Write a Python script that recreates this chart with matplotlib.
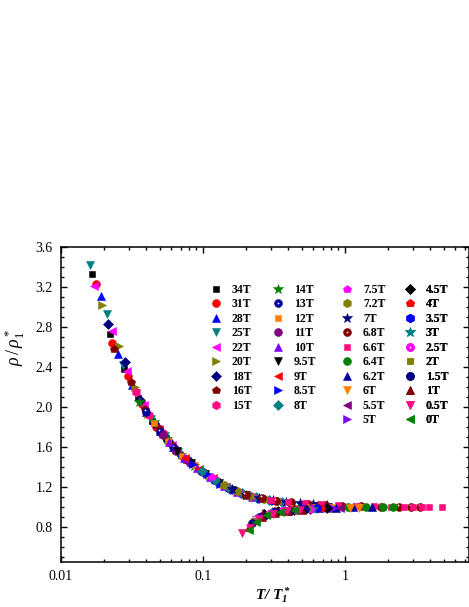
import matplotlib
matplotlib.use('Agg')
import matplotlib.pyplot as plt
from matplotlib.lines import Line2D
from matplotlib.ticker import FuncFormatter, NullFormatter, MultipleLocator, LogLocator
from matplotlib.transforms import offset_copy

plt.rcParams['font.family'] = 'Liberation Serif'
plt.rcParams['mathtext.fontset'] = 'custom'
plt.rcParams['mathtext.rm'] = 'Liberation Serif'
plt.rcParams['mathtext.it'] = 'Liberation Serif:italic'
plt.rcParams['mathtext.bf'] = 'Liberation Serif:bold'
plt.rcParams['mathtext.bfit'] = 'Liberation Serif:bold:italic'

# ---------------- data ----------------
fields = ['34T', '31T', '28T', '25T', '22T', '20T', '18T', '16T', '15T',
          '14T', '13T', '12T', '11T', '10T', '9.5T', '9T', '8.5T', '8T',
          '7.5T', '7.2T', '7T', '6.8T', '6.6T', '6.4T', '6.2T', '6T', '5.5T', '5T',
          '4.5T', '4T', '3.5T', '3T', '2.5T', '2T', '1.5T', '1T', '0.5T', '0T']

t_34T = [0.0166, 0.022, 0.0277, 0.035, 0.044, 0.055]
r_34T = [3.33, 2.73, 2.38, 2.09, 1.86, 1.69]
t_31T = [0.0177, 0.023, 0.0297, 0.037, 0.047, 0.058]
r_31T = [3.23, 2.64, 2.31, 2.03, 1.80, 1.65]
t_28T = [0.0192, 0.0254, 0.0319, 0.040, 0.050, 0.062]
r_28T = [3.11, 2.53, 2.22, 1.95, 1.76, 1.60]
t_25T = [0.0159, 0.021, 0.0273, 0.034, 0.043, 0.054, 0.067]
r_25T = [3.42, 2.93, 2.42, 2.14, 1.88, 1.71, 1.55]
t_22T = [0.0172, 0.023, 0.029, 0.0387, 0.049, 0.061]
r_22T = [3.21, 2.76, 2.36, 2.02, 1.78, 1.62]
t_20T = [0.0195, 0.0258, 0.033, 0.041, 0.052, 0.065]
r_20T = [3.02, 2.61, 2.20, 1.93, 1.73, 1.57]
t_18T = [0.0214, 0.0283, 0.036, 0.045, 0.057, 0.071]
r_18T = [2.83, 2.45, 2.07, 1.84, 1.66, 1.51]
t_16T = [0.0238, 0.0312, 0.039, 0.049, 0.061, 0.076]
r_16T = [2.58, 2.25, 1.98, 1.79, 1.62, 1.47]
t_15T = [0.0335, 0.042, 0.052, 0.066, 0.082, 0.10]
r_15T = [2.15, 1.92, 1.74, 1.57, 1.44, 1.35]
t_14T = [0.0357, 0.045, 0.056, 0.070, 0.087, 0.108]
r_14T = [2.05, 1.85, 1.68, 1.52, 1.41, 1.32]
t_13T = [0.040, 0.050, 0.063, 0.078, 0.097, 0.12, 0.15]
r_13T = [1.95, 1.75, 1.59, 1.47, 1.36, 1.27, 1.19]
t_12T = [0.045, 0.057, 0.071, 0.088, 0.11, 0.137, 0.17]
r_12T = [1.84, 1.66, 1.51, 1.42, 1.31, 1.22, 1.15]
t_11T = [0.052, 0.065, 0.081, 0.10, 0.125, 0.155, 0.19]
r_11T = [1.72, 1.56, 1.44, 1.35, 1.26, 1.18, 1.13]
t_10T = [0.058, 0.073, 0.091, 0.113, 0.14, 0.175, 0.22]
r_10T = [1.65, 1.49, 1.39, 1.30, 1.21, 1.15, 1.10]
t_9p5T = [0.066, 0.083, 0.104, 0.13, 0.16, 0.20, 0.25]
r_9p5T = [1.56, 1.44, 1.33, 1.24, 1.17, 1.12, 1.08]
t_9T = [0.075, 0.094, 0.117, 0.146, 0.18, 0.225, 0.28]
r_9T = [1.49, 1.38, 1.29, 1.20, 1.14, 1.10, 1.07]
t_8p5T = [0.085, 0.106, 0.132, 0.165, 0.205, 0.255, 0.32]
r_8p5T = [1.43, 1.33, 1.23, 1.17, 1.12, 1.08, 1.06]
t_8T = [0.098, 0.122, 0.152, 0.19, 0.235, 0.29, 0.36]
r_8T = [1.36, 1.27, 1.19, 1.14, 1.10, 1.07, 1.05]
t_7p5T = [0.115, 0.143, 0.178, 0.22, 0.275, 0.34, 0.42]
r_7p5T = [1.30, 1.22, 1.16, 1.11, 1.08, 1.06, 1.04]
t_7p2T = [0.14, 0.175, 0.215, 0.27, 0.335, 0.415, 0.52, 0.65]
r_7p2T = [1.22, 1.16, 1.11, 1.08, 1.06, 1.04, 1.03, 1.02]
t_7T = [0.16, 0.20, 0.25, 0.31, 0.385, 0.48, 0.6, 0.75]
r_7T = [1.18, 1.12, 1.09, 1.07, 1.05, 1.04, 1.03, 1.02]
t_6p8T = [0.20, 0.26, 0.33, 0.42, 0.55, 0.72, 0.95, 1.3, 1.8, 2.4, 2.95, 3.4]
r_6p8T = [1.12, 1.09, 1.06, 1.05, 1.03, 1.02, 1.01, 1.01, 1.0, 1.0, 1.0, 1.0]
t_6p6T = [0.3, 0.4, 0.52, 0.68, 0.9, 1.2, 1.6, 2.1, 2.62, 3.0, 3.5, 3.95, 4.85]
r_6p6T = [1.07, 1.05, 1.035, 1.025, 1.015, 1.01, 1.005, 1.0, 1.0, 1.0, 1.0, 1.0, 0.995]
t_6p4T = [0.45, 0.6, 0.8, 1.05, 1.4, 1.85, 2.17]
r_6p4T = [0.975, 0.985, 0.99, 0.995, 1.0, 1.0, 1.0]
t_6p2T = [0.38, 0.5, 0.66, 0.87, 1.15, 1.55]
r_6p2T = [0.97, 0.98, 0.985, 0.99, 0.995, 1.0]
t_6T = [0.33, 0.44, 0.58, 0.78, 1.08, 1.26]
r_6T = [0.96, 0.975, 0.985, 0.99, 0.99, 0.99]
t_5p5T = [0.30, 0.39, 0.51, 0.68, 0.92]
r_5p5T = [0.955, 0.97, 0.98, 0.985, 0.99]
t_5T = [0.28, 0.36, 0.47, 0.62, 0.82]
r_5T = [0.94, 0.96, 0.975, 0.985, 0.99]
t_4p5T = [0.27, 0.34, 0.44, 0.57, 0.75]
r_4p5T = [0.93, 0.955, 0.97, 0.98, 0.99]
t_4T = [0.26, 0.32, 0.41, 0.53, 0.68]
r_4T = [0.92, 0.95, 0.965, 0.975, 0.985]
t_3p5T = [0.25, 0.31, 0.39, 0.5, 0.64]
r_3p5T = [0.90, 0.945, 0.96, 0.975, 0.985]
t_3T = [0.24, 0.30, 0.37, 0.47, 0.6]
r_3T = [0.89, 0.94, 0.955, 0.97, 0.98]
t_2p5T = [0.235, 0.29, 0.36, 0.45, 0.57]
r_2p5T = [0.88, 0.93, 0.955, 0.97, 0.98]
t_2T = [0.23, 0.28, 0.35, 0.43, 0.54]
r_2T = [0.86, 0.92, 0.95, 0.965, 0.975]
t_1p5T = [0.22, 0.27, 0.33, 0.41, 0.52]
r_1p5T = [0.84, 0.91, 0.945, 0.96, 0.975]
t_1T = [0.21, 0.26, 0.32, 0.40, 0.5]
r_1T = [0.80, 0.90, 0.94, 0.96, 0.97]
t_0p5T = [0.19, 0.215, 0.25, 0.31, 0.39, 0.48]
r_0p5T = [0.74, 0.79, 0.88, 0.93, 0.955, 0.97]
t_0T = [0.21, 0.235, 0.28, 0.35, 0.44]
r_0T = [0.77, 0.85, 0.915, 0.95, 0.965]

T_data = [t_34T, t_31T, t_28T, t_25T, t_22T, t_20T, t_18T, t_16T, t_15T,
          t_14T, t_13T, t_12T, t_11T, t_10T, t_9p5T, t_9T, t_8p5T, t_8T,
          t_7p5T, t_7p2T, t_7T, t_6p8T, t_6p6T, t_6p4T, t_6p2T, t_6T, t_5p5T, t_5T,
          t_4p5T, t_4T, t_3p5T, t_3T, t_2p5T, t_2T, t_1p5T, t_1T, t_0p5T, t_0T]
R_data = [r_34T, r_31T, r_28T, r_25T, r_22T, r_20T, r_18T, r_16T, r_15T,
          r_14T, r_13T, r_12T, r_11T, r_10T, r_9p5T, r_9T, r_8p5T, r_8T,
          r_7p5T, r_7p2T, r_7T, r_6p8T, r_6p6T, r_6p4T, r_6p2T, r_6T, r_5p5T, r_5T,
          r_4p5T, r_4T, r_3p5T, r_3T, r_2p5T, r_2T, r_1p5T, r_1T, r_0p5T, r_0T]

# ---------------- styles ----------------
color_cycle = ['#000000', '#FF0000', '#0000FF', '#008080', '#FF00FF', '#808000',
               '#000080', '#800000', '#FF0A80', '#008000', '#0000A0', '#FF8000',
               '#800080', '#8000FF']
marker_cycle = ['s', 'o', '^', 'v', '<', '>', 'D', 'p', 'h', '*', 'sphere']
msize = {'s': 4.9, 'o': 5.7, '^': 6.2, 'v': 6.2, '<': 6.2, '>': 6.2,
         'D': 4.9, 'p': 6.2, 'h': 6.2, '*': 7.7, 'sphere': 5.7}

fig = plt.figure(figsize=(4.69, 6.07), dpi=100)
W, H = 469.0, 607.0
ax_l, ax_r, ax_t, ax_b = 61.0, 469.0, 246.7, 562.0
ax = fig.add_axes([ax_l / W, 1 - ax_b / H, (ax_r - ax_l) / W, (ax_b - ax_t) / H])

hl_off = offset_copy(ax.transData, fig=fig, x=-0.9, y=0.9, units='points')

handles = []
for i, (lab, t, r) in enumerate(zip(fields, T_data, R_data)):
    c = color_cycle[i % len(color_cycle)]
    m = marker_cycle[i % len(marker_cycle)]
    mk = 'o' if m == 'sphere' else m
    ax.plot(t, r, linestyle='none', marker=mk, ms=msize[m], color=c,
            mec=c, mew=0.4, zorder=3 + i * 0.01)
    h = Line2D([], [], linestyle='none', marker=mk, ms=msize[m], color=c, mec=c, mew=0.4)
    if m == 'sphere':
        ax.plot(t, r, linestyle='none', marker='o', ms=1.3, color='white',
                mew=0, transform=hl_off, zorder=3 + i * 0.01 + 0.005)
        hw = Line2D([], [], linestyle='none', marker='o', ms=1.3, color='white', mew=0)
        h = (h, hw)
    handles.append(h)

ax.set_xscale('log')
ax.set_xlim(0.01, 7.5)
ax.set_ylim(0.447, 3.6)

ax.xaxis.set_major_locator(LogLocator(base=10, numticks=10))
ax.xaxis.set_minor_locator(LogLocator(base=10, subs=range(2, 10), numticks=20))
ax.xaxis.set_major_formatter(FuncFormatter(lambda v, p: '%g' % v))
ax.xaxis.set_minor_formatter(NullFormatter())
ax.yaxis.set_major_locator(MultipleLocator(0.4))
ax.yaxis.set_minor_locator(MultipleLocator(0.1))
ax.yaxis.set_major_formatter(FuncFormatter(lambda v, p: '%.1f' % v))

ax.tick_params(which='both', direction='in', top=True, right=True, width=1.0,
               labelsize=10, colors='black')
ax.tick_params(which='major', length=4.5, pad=6)
ax.tick_params(which='minor', length=2.5)
for s in ax.spines.values():
    s.set_linewidth(1.1)

ax.set_ylabel(r'$\rho\,/\,\rho_1^*$', fontsize=13)
ax.yaxis.set_label_coords((27 - ax_l) / (ax_r - ax_l), (ax_b - 347) / (ax_b - ax_t))
ax.set_xlabel(r'$\mathbfit{T/\ T_1^*}$', fontsize=11)
ax.xaxis.set_label_coords((273 - ax_l) / (ax_r - ax_l), (ax_b - 586) / (ax_b - ax_t))

# legend: 4 columns (9, 9, 10, 10 entries)
col_slices = [(0, 9), (9, 18), (18, 28), (28, 38)]
col_marker_x = [216, 278, 347, 410]
fs = 8.5
half_handle = 0.5 * 1.0 * fs * 100 / 72.0
row_top = 284.0
for (a, b), mx in zip(col_slices, col_marker_x):
    lx = (mx - half_handle - ax_l) / (ax_r - ax_l)
    ly = (ax_b - row_top) / (ax_b - ax_t)
    leg = ax.legend(handles[a:b], fields[a:b], loc='upper left',
                    bbox_to_anchor=(lx, ly), bbox_transform=ax.transAxes,
                    frameon=False, borderpad=0, borderaxespad=0,
                    handlelength=1.0, handletextpad=0.85, labelspacing=0.21,
                    numpoints=1, prop={'family': 'Liberation Serif', 'weight': 'bold', 'size': fs})
    ax.add_artist(leg)

fig.savefig('out.png', dpi=100)
